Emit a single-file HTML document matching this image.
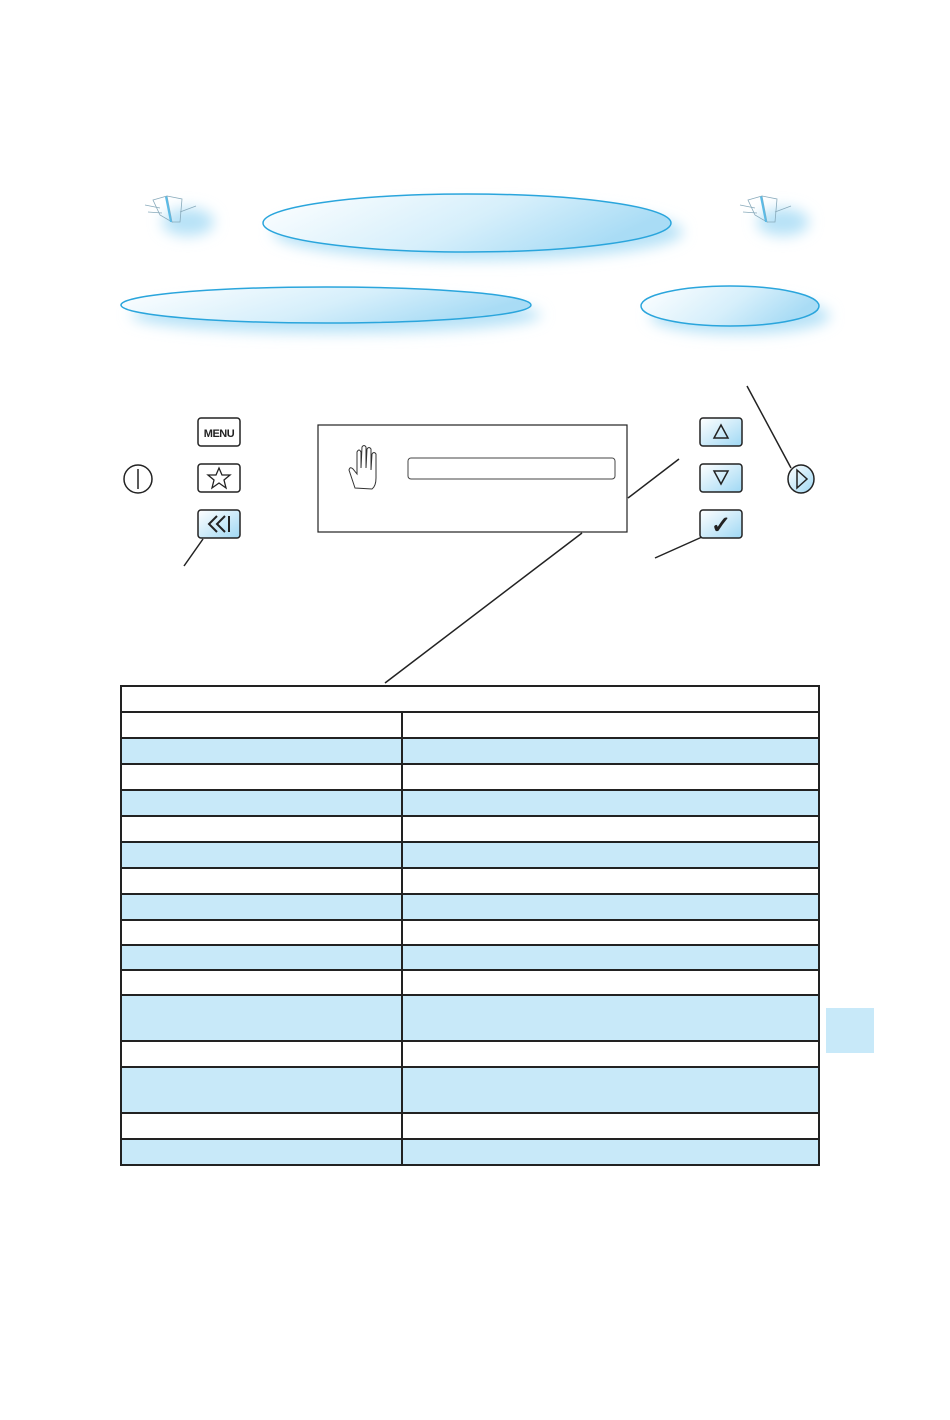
<!DOCTYPE html>
<html><head><meta charset="utf-8"><style>
html,body{margin:0;padding:0;background:#fff;}
svg{display:block;font-family:"Liberation Sans",sans-serif;}
</style></head><body>
<svg width="950" height="1420" viewBox="0 0 950 1420" xmlns="http://www.w3.org/2000/svg">
<defs>
<linearGradient id="eg" x1="0" y1="0" x2="1" y2="0.3">
<stop offset="0" stop-color="#ffffff"/><stop offset="0.6" stop-color="#d6effb"/><stop offset="1" stop-color="#a9dcf5"/>
</linearGradient>
<linearGradient id="bg" x1="0" y1="0" x2="1" y2="1">
<stop offset="0" stop-color="#ffffff"/><stop offset="1" stop-color="#9fd8f4"/>
</linearGradient>
<filter id="blur" x="-20%" y="-50%" width="140%" height="200%"><feGaussianBlur stdDeviation="7"/></filter>
</defs>
<!-- shadows -->
<g fill="#b7e2f7" filter="url(#blur)">
<ellipse cx="478" cy="232" rx="205" ry="28"/>
<ellipse cx="336" cy="315" rx="205" ry="18"/>
<ellipse cx="740" cy="316" rx="90" ry="18"/>
<ellipse cx="188" cy="222" rx="26" ry="14"/>
<ellipse cx="783" cy="222" rx="26" ry="14"/>
</g>
<ellipse cx="467" cy="223" rx="204" ry="29" fill="url(#eg)" stroke="#2aa5dc" stroke-width="1.5"/>
<ellipse cx="326" cy="305" rx="205" ry="18" fill="url(#eg)" stroke="#2aa5dc" stroke-width="1.5"/>
<ellipse cx="730" cy="306" rx="89" ry="20" fill="url(#eg)" stroke="#2aa5dc" stroke-width="1.5"/>
<!-- book icons -->
<g stroke="#8ab" stroke-width="0.8" fill="none">
<path d="M153 200 L167 196 L172 222 L160 215 Z M167 196 L182 199 L180 222 L172 222"/>
<path d="M145 205 L160 208 M148 212 L162 213 M180 212 L196 206"/>
<path d="M748 200 L762 196 L767 222 L755 215 Z M762 196 L777 199 L775 222 L767 222"/>
<path d="M740 205 L755 208 M743 212 L757 213 M775 212 L791 206"/>
</g>
<path d="M167 196 L172 222 L170 222 L165 197Z M762 196 L767 222 L765 222 L760 197Z" fill="#5bbbe6"/>
<!-- buttons left -->
<g stroke="#222" stroke-width="1.5">
<rect x="198" y="418" width="42" height="28" rx="3" fill="#fff"/>
<rect x="198" y="464" width="42" height="28" rx="3" fill="#fff"/>
<rect x="198" y="510" width="42" height="28" rx="3" fill="url(#bg)"/>
<rect x="700" y="418" width="42" height="28" rx="3" fill="url(#bg)"/>
<rect x="700" y="464" width="42" height="28" rx="3" fill="url(#bg)"/>
<rect x="700" y="510" width="42" height="28" rx="3" fill="url(#bg)"/>
<ellipse cx="138" cy="479" rx="14" ry="14" fill="#fff"/>
<ellipse cx="801" cy="479" rx="13" ry="14" fill="url(#bg)"/>
</g>
<text x="219" y="437" font-size="11" font-weight="bold" text-anchor="middle" fill="#222" letter-spacing="-0.5">MENU</text>
<line x1="138" y1="469" x2="138" y2="489" stroke="#222" stroke-width="1.5"/>
<path d="M219 468 L222 475 L230 475 L224 480 L226 488 L219 483 L212 488 L214 480 L208 475 L216 475 Z" fill="none" stroke="#222" stroke-width="1.3"/>
<path d="M217 516 L209 524 L217 532 M225 516 L217 524 L225 532 M229 516 L229 532" fill="none" stroke="#222" stroke-width="2"/>
<path d="M721 425 L728 438 L714 438 Z" fill="none" stroke="#222" stroke-width="1.5"/>
<path d="M714 471 L728 471 L721 484 Z" fill="none" stroke="#222" stroke-width="1.5"/>
<text x="721" y="533" font-size="24" font-weight="bold" text-anchor="middle" fill="#222">✓</text>
<path d="M797 470 L807 479 L797 488 Z" fill="none" stroke="#222" stroke-width="1.5"/>
<!-- display box -->
<rect x="318" y="425" width="309" height="107" fill="#fff" stroke="#222" stroke-width="1.2"/>
<rect x="408" y="458" width="207" height="21" rx="3" fill="#fff" stroke="#444" stroke-width="1"/>
<path d="M355 488 L349 470 Q350 466 353 469 L357 474 L357 452 Q359 448 361 452 L361 468 L362 447 Q364 444 366 447 L366 468 L367 449 Q369 446 371 449 L371 470 L372 454 Q374 451 376 454 L376 478 Q376 486 372 489 Z" fill="#fff" stroke="#333" stroke-width="1"/>
<!-- leader lines -->
<g stroke="#222" stroke-width="1.5">
<line x1="747" y1="386" x2="791" y2="468"/>
<line x1="628" y1="498" x2="679" y2="459"/>
<line x1="655" y1="558" x2="702" y2="537"/>
<line x1="184" y1="566" x2="203" y2="539"/>
<line x1="385" y1="683" x2="582" y2="533"/>
</g>
<!-- table -->
<g fill="#c8e9f9">
<rect x="121" y="738" width="698" height="26"/>
<rect x="121" y="790" width="698" height="26"/>
<rect x="121" y="842" width="698" height="26"/>
<rect x="121" y="894" width="698" height="26"/>
<rect x="121" y="945" width="698" height="25"/>
<rect x="121" y="995" width="698" height="46"/>
<rect x="121" y="1067" width="698" height="46"/>
<rect x="121" y="1139" width="698" height="26"/>
</g>
<g stroke="#222" stroke-width="2" fill="none">
<rect x="121" y="686" width="698" height="479"/>
<line x1="402" y1="712" x2="402" y2="1165"/>
<path d="M121 712H819 M121 738H819 M121 764H819 M121 790H819 M121 816H819 M121 842H819 M121 868H819 M121 894H819 M121 920H819 M121 945H819 M121 970H819 M121 995H819 M121 1041H819 M121 1067H819 M121 1113H819 M121 1139H819"/>
</g>
<rect x="826" y="1008" width="48" height="45" fill="#c8e9f9"/>
</svg>
</body></html>
